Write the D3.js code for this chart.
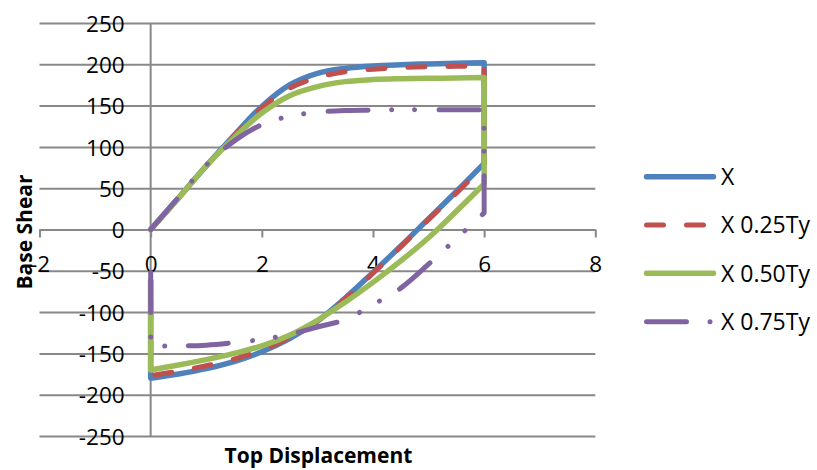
<!DOCTYPE html>
<html>
<head>
<meta charset="utf-8">
<script src="https://cdn.jsdelivr.net/npm/d3@7/dist/d3.min.js"></script>
<style>
  html, body { margin: 0; padding: 0; background: #fff; }
  svg { display: block; }
  text { font-family: "Open Sans", "DejaVu Sans", sans-serif; fill: #000; }
</style>
</head>
<body>
<svg id="chart" width="817" height="470"></svg>
<script>
// Series labels, in drawing order
const seriesNames = ["X", "X 0.25Ty", "X 0.50Ty", "X 0.75Ty"];

// Loading branch: top displacement from 0 up to 6
const loadDisp = [0, 0.5, 1, 1.5, 2, 2.5, 3, 3.5, 4, 4.5, 5, 5.5, 6];
const loadX    = [0, 38, 77, 114, 149, 175, 189, 195, 198, 199.5, 200.5, 201.3, 202];
const loadX25  = [0, 38, 77, 113, 147, 171, 184, 191, 194, 196, 197, 197.6, 198];
const loadX50  = [0, 38, 77, 111, 141, 162, 173, 179, 181.5, 182.5, 183, 183.5, 184];
const loadX75  = [0, 39, 78, 107, 127, 137, 142, 144, 144.5, 145, 145, 145, 145];

// Reverse branch: top displacement from 6 back to 0
const unloadDisp = [6, 5.5, 5, 4.5, 4, 3.5, 3, 2.5, 2, 1.5, 1, 0.5, 0];
const unloadX    = [80, 46, 13, -20, -52, -83, -111, -132, -148, -160, -168.5, -175, -180];
const unloadX25  = [77, 44, 12, -21, -53, -84, -111, -131, -146, -157, -165, -171.5, -177];
const unloadX50  = [55, 22, -10, -38, -64, -88, -110, -128, -141, -150, -157.5, -164, -170];
const unloadX75  = [20, -11, -42, -71, -91, -109, -118, -127, -133, -137, -140, -141, -141];

// Base shear reached when the displacement returns to 0
const releaseShear = [-62, -62, -62, -37];

// Axis ticks
const xTicks = [-2, 0, 2, 4, 6, 8];
const yTicks = [-250, -200, -150, -100, -50, 0, 50, 100, 150, 200, 250];

const loads = [loadX, loadX25, loadX50, loadX75];
const unloads = [unloadX, unloadX25, unloadX50, unloadX75];

const styles = [
  { color: "#4F81BD", width: 5.5, dash: null },
  { color: "#C0504D", width: 5, dash: "17 23" },
  { color: "#9BBB59", width: 5.5, dash: null },
  { color: "#8064A2", width: 5, dash: "40 23.5 0.01 23 0.01 24.5" }
];

const svg = d3.select("#chart");
const plotLeft = 39.5, plotRight = 595.3, plotTop = 23, plotBottom = 436;

const x = d3.scaleLinear().domain([-2, 8]).range([plotLeft, plotRight]);
const y = d3.scaleLinear().domain([-250, 250]).range([plotBottom, plotTop]);

const gridColor = "#888888";

// Horizontal gridlines
const grid = svg.append("g")
  .attr("transform", `translate(${plotLeft},0)`)
  .call(d3.axisLeft(y).tickValues(yTicks).tickSize(-(plotRight - plotLeft)).tickFormat(""));
grid.select(".domain").remove();
grid.selectAll(".tick line").attr("stroke", gridColor).attr("stroke-width", 2);

// Vertical axis through x = 0 with its labels
const yAxis = svg.append("g")
  .attr("transform", `translate(${x(0)},0)`)
  .call(d3.axisLeft(y).tickValues(yTicks).tickSize(0).tickPadding(26).tickFormat(d => String(d)));
yAxis.select(".domain").attr("stroke", gridColor).attr("stroke-width", 2)
  .attr("d", `M0,${plotTop}V${plotBottom}`);
yAxis.selectAll("text").attr("font-size", 22.5).attr("font-family", null).attr("dy", "0.36em");

// Horizontal axis through y = 0 with tick marks below it
const xAxis = svg.append("g")
  .attr("transform", `translate(0,${y(0)})`)
  .call(d3.axisBottom(x).tickValues(xTicks).tickSize(8).tickFormat(d => String(d)));
xAxis.select(".domain").remove();
xAxis.selectAll(".tick line").attr("stroke", gridColor).attr("stroke-width", 2);
xAxis.selectAll("text").attr("font-size", 22.5).attr("font-family", null)
  .attr("y", 34.5).attr("dy", "0.36em");

// Hysteresis curves
const line = d3.line()
  .x(d => x(d[0]))
  .y(d => y(d[1]))
  .curve(d3.curveCatmullRom.alpha(0.5));

seriesNames.forEach((name, i) => {
  const up = loadDisp.map((d, k) => [d, loads[i][k]]);
  const down = unloadDisp.map((d, k) => [d, unloads[i][k]]);
  const p = line(up) + line(down).replace(/^M/, "L") +
            `L${x(0)},${y(releaseShear[i])}`;
  const st = styles[i];
  svg.append("path")
    .attr("d", p)
    .attr("fill", "none")
    .attr("stroke", st.color)
    .attr("stroke-width", st.width)
    .attr("stroke-linecap", "round")
    .attr("stroke-linejoin", "round")
    .attr("stroke-dasharray", st.dash);
});

// Axis titles
svg.append("text")
  .attr("x", (plotLeft + plotRight) / 2 + 1)
  .attr("y", 463)
  .attr("text-anchor", "middle")
  .attr("font-size", 21)
  .attr("font-weight", "bold")
  .text("Top Displacement");

svg.append("text")
  .attr("transform", `translate(31.5,232) rotate(-90)`)
  .attr("text-anchor", "middle")
  .attr("font-size", 21)
  .attr("font-weight", "bold")
  .text("Base Shear");

// Legend
const legendRows = [176.7, 225, 273.3, 321.7];
const legend = svg.append("g");
seriesNames.forEach((name, i) => {
  const st = styles[i];
  const g = legend.append("g").attr("transform", `translate(0,${legendRows[i]})`);
  g.append("line")
    .attr("x1", 646.5).attr("x2", 713.5)
    .attr("y1", 0).attr("y2", 0)
    .attr("stroke", st.color)
    .attr("stroke-width", st.width)
    .attr("stroke-linecap", "round")
    .attr("stroke-dasharray", st.dash);
  g.append("text")
    .attr("x", 721)
    .attr("y", 0)
    .attr("dy", "0.36em")
    .attr("font-size", 23)
    .text(name);
});
</script>
</body>
</html>
